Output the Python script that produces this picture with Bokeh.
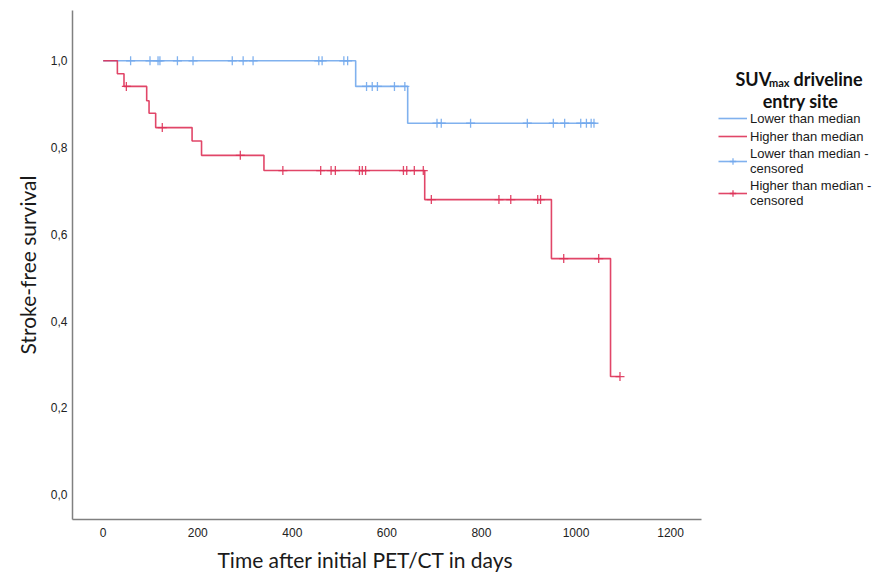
from bokeh.plotting import figure
from bokeh.models import (Range1d, FixedTicker, CustomJSTickFormatter, Legend,
                          LegendItem, Label, Title)
from bokeh.embed import file_html
from bokeh.resources import INLINE

# ---------------- data ----------------
x_ticks = [0, 200, 400, 600, 800, 1000, 1200]
y_ticks = [0.0, 0.2, 0.4, 0.6, 0.8, 1.0]

# Lower than median (blue)
blue_event_days = [534, 644]
blue_surv = [0.941, 0.856]
blue_censor_days = [58, 99, 116, 120, 157, 190, 273, 296, 317, 456, 463, 509, 517,
                    557, 569, 580, 616, 638,
                    706, 715, 777, 897, 952, 976, 1010, 1022, 1032, 1038]

# Higher than median (red)
red_event_days = [30, 44, 92, 97, 111, 188, 208, 340, 680, 948, 1073]
red_surv = [0.970, 0.941, 0.908, 0.879, 0.846, 0.815, 0.782, 0.747, 0.680, 0.544, 0.272]
red_censor_days = [49, 125, 290, 380, 460, 482, 491, 542, 548, 555,
                   635, 642, 658, 677, 694, 837, 862, 919, 925, 974, 1048, 1093]

series_labels = ["Lower than median", "Higher than median",
                 "Lower than median -\ncensored", "Higher than median -\ncensored"]
legend_title = ["SUV", "max", "driveline", "entry site"]
x_title = "Time after initial PET/CT in days"
y_title = "Stroke-free survival"

BLUE = "#72A9EC"
RED = "#DE3258"


def km_steps(events, surv, censors):
    end = max(censors + events)
    return [0] + events + [end], [1.0] + surv + [surv[-1]]


def level_at(t, events, surv):
    s = 1.0
    for e, v in zip(events, surv):
        if t >= e:
            s = v
    return s


# ---------------- layout geometry ----------------
W, H = 887, 578
F_LEFT, F_TOP, F_BOTTOM = 72, 10, 519
AXIS_RIGHT = 701                      # where the x axis line ends
X_START, X_AXIS_END = -64.9, 1265.4   # data values at F_LEFT and AXIS_RIGHT
DAYS_PER_PX = (X_AXIS_END - X_START) / (AXIS_RIGHT - F_LEFT)
X_END = X_AXIS_END + (W - AXIS_RIGHT) * DAYS_PER_PX
Y_START, Y_END = -0.0576, 1.116


def dx(px):
    return X_START + (px - F_LEFT) * DAYS_PER_PX


def dy(py):
    return Y_END - (py - F_TOP) / (F_BOTTOM - F_TOP) * (Y_END - Y_START)


p = figure(width=W, height=H, output_backend="svg", toolbar_location=None,
           x_range=Range1d(X_START, X_END), y_range=Range1d(Y_START, Y_END),
           min_border_left=F_LEFT, min_border_right=0,
           min_border_top=F_TOP, min_border_bottom=H - F_BOTTOM)
p.outline_line_color = None
p.background_fill_color = "white"
p.border_fill_color = "white"
p.xgrid.visible = False
p.ygrid.visible = False

for ax in (p.xaxis[0], p.yaxis[0]):
    ax.axis_line_color = "#808080"
    ax.axis_line_width = 1.5
    ax.major_tick_line_color = None
    ax.minor_tick_line_color = None
    ax.major_tick_out = 0
    ax.major_tick_in = 0
    ax.major_label_text_font = "Liberation Sans"
    ax.major_label_text_font_size = "12px"
    ax.major_label_text_color = "#222222"
    ax.axis_label_text_font = "Lato"
    ax.axis_label_text_font_size = "21px"
    ax.axis_label_text_font_style = "normal"
    ax.axis_label_text_color = "#1a1a1a"

p.xaxis[0].ticker = FixedTicker(ticks=x_ticks)
p.xaxis[0].bounds = (X_START, X_AXIS_END)
p.xaxis[0].major_label_standoff = 8
p.yaxis[0].ticker = FixedTicker(ticks=y_ticks)
p.yaxis[0].formatter = CustomJSTickFormatter(code="return tick.toFixed(1).replace('.', ',');")
p.yaxis[0].major_label_standoff = 5
p.yaxis[0].axis_label = y_title
p.yaxis[0].axis_label_standoff = 8

# x axis title, placed under the tick labels and centred like the reference
p.add_layout(Title(text=x_title, align="left", offset=145, standoff=10,
                   vertical_align="bottom", text_font="Lato", text_font_size="21px",
                   text_font_style="normal", text_color="#1a1a1a"), "below")

# ---------------- curves ----------------
bx, by = km_steps(blue_event_days, blue_surv, blue_censor_days)
rx, ry = km_steps(red_event_days, red_surv, red_censor_days)
blue_line = p.step(bx, by, mode="after", line_color=BLUE, line_width=1.6, line_alpha=0.9)
red_line = p.step(rx, ry, mode="after", line_color=RED, line_width=1.6, line_alpha=0.9)

bcy = [level_at(t, blue_event_days, blue_surv) for t in blue_censor_days]
rcy = [level_at(t, red_event_days, red_surv) for t in red_censor_days]
blue_c = p.scatter(blue_censor_days, bcy, marker="cross", size=9, line_color=BLUE,
                   line_width=1.3, line_alpha=0.9)
red_c = p.scatter(red_censor_days, rcy, marker="cross", size=9, line_color=RED,
                  line_width=1.3, line_alpha=0.9)

# ---------------- legend ----------------
legend = Legend(items=[
    LegendItem(label=series_labels[0], renderers=[blue_line]),
    LegendItem(label=series_labels[1], renderers=[red_line]),
    LegendItem(label=series_labels[2], renderers=[blue_line, blue_c]),
    LegendItem(label=series_labels[3], renderers=[red_line, red_c]),
], location=(718 - F_LEFT, F_BOTTOM - 208), padding=0, spacing=2, margin=0,
    glyph_width=29, glyph_height=16, label_height=16, label_standoff=3,
    label_text_font="Liberation Sans", label_text_font_size="13px",
    label_text_line_height=1.1, label_text_color="#1a1a1a",
    border_line_color=None, background_fill_alpha=0)
p.add_layout(legend)

# legend title with subscript
tf = "Lato"
p.add_layout(Label(x=dx(735), y=dy(78), text=legend_title[0], text_font=tf,
                   text_font_size="18px", text_font_style="bold", text_color="#111111",
                   text_baseline="alphabetic", text_align="left"))
p.add_layout(Label(x=dx(768.5), y=dy(81.5), text=legend_title[1], text_font=tf,
                   text_font_size="11px", text_font_style="bold", text_color="#111111",
                   text_baseline="alphabetic", text_align="left"))
p.add_layout(Label(x=dx(793), y=dy(78), text=legend_title[2], text_font=tf,
                   text_font_size="18px", text_font_style="bold", text_color="#111111",
                   text_baseline="alphabetic", text_align="left"))
p.add_layout(Label(x=dx(800), y=dy(100), text=legend_title[3], text_font=tf,
                   text_font_size="18px", text_font_style="bold", text_color="#111111",
                   text_baseline="alphabetic", text_align="center"))

open("out.html", "w").write(file_html(p, INLINE))
